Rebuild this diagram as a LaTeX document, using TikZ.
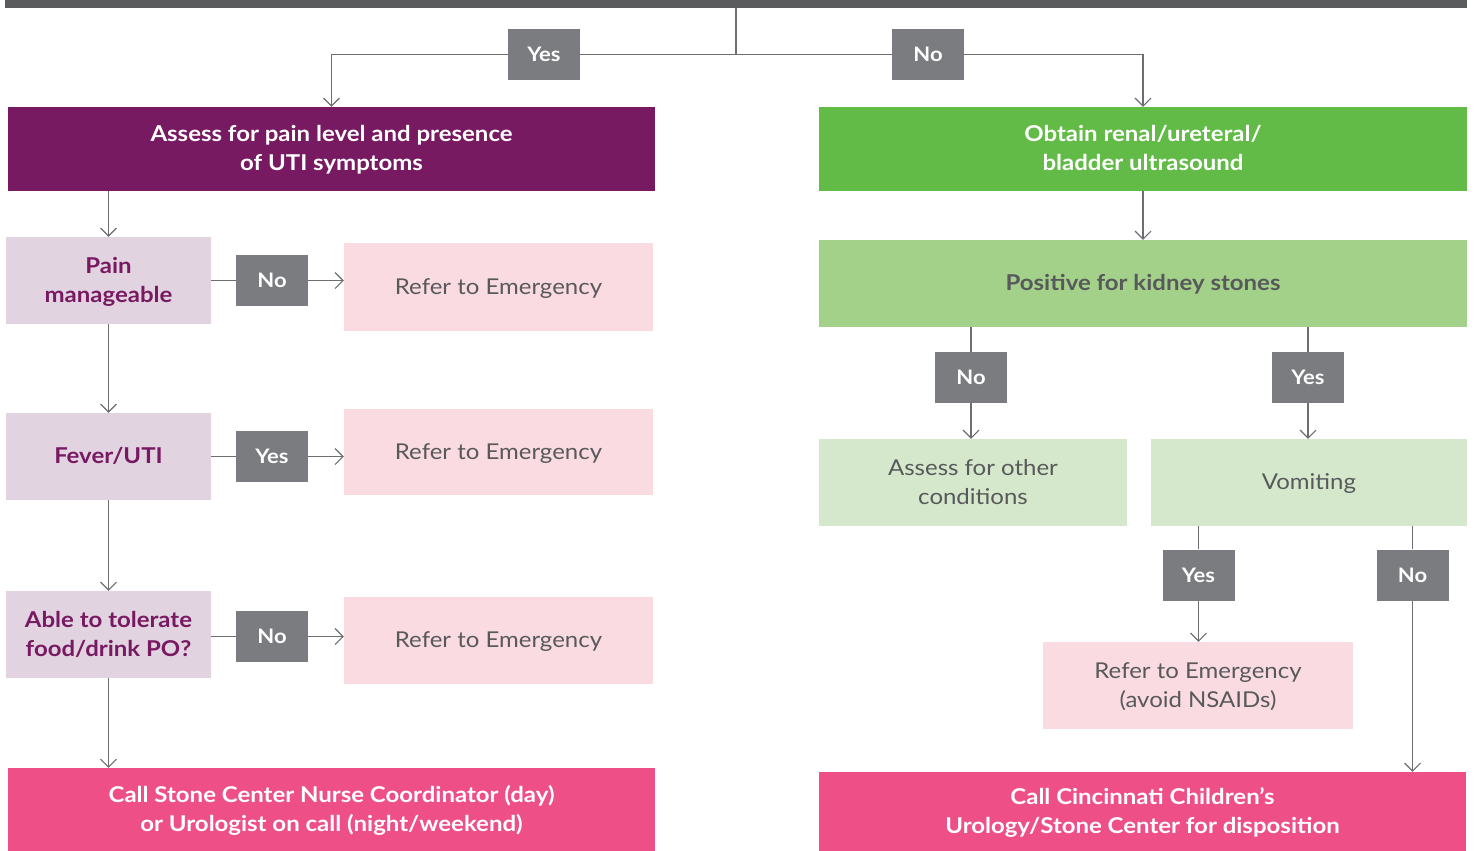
\documentclass[tikz,border=0pt]{standalone}
\usepackage{fontspec}
\setmainfont{Lato}[FakeStretch=1.1]
\usetikzlibrary{arrows.meta}
\definecolor{topbar}{HTML}{5B5C5E}
\definecolor{labgray}{HTML}{7B7C80}
\definecolor{purp}{HTML}{781A62}
\definecolor{lilac}{HTML}{E2D3E1}
\definecolor{pinkl}{HTML}{F9DBE1}
\definecolor{hotpink}{HTML}{EE4F87}
\definecolor{grn}{HTML}{62BB47}
\definecolor{grnm}{HTML}{A3D18A}
\definecolor{grnl}{HTML}{D5E8CB}
\definecolor{txtgray}{HTML}{58595B}
\definecolor{linegray}{HTML}{6D6E71}
\newcommand{\bs}{\rule[-4.5pt]{0pt}{23pt}}
\tikzset{
  box/.style={inner sep=0pt, align=center, font=\fontsize{21.8}{29}\selectfont},
  boldbox/.style={box, font=\fontsize{21.8}{29}\selectfont\bfseries},
  lab/.style={fill=labgray, text=white, inner sep=0pt, minimum width=72pt, minimum height=51pt, font=\fontsize{20}{23}\selectfont\bfseries},
  conn/.style={draw=linegray, line width=1.2pt},
  arr/.style={conn, -{Straight Barb[length=8pt,width=16pt,line width=1.1pt]}},
}
\begin{document}
\begin{tikzpicture}[x=1pt,y=-1pt]
\useasboundingbox (0,0) rectangle (1475,851);
\fill[topbar] (5,0) rectangle (1467,8);
\coordinate (top) at (736,8);
% labels
\node[lab] (yesA) at (544,54.5) {Yes};
\node[lab] (noA) at (928,54.5) {No};
% left column
\node[boldbox, fill=purp, text=white, minimum width=647pt, minimum height=84pt] (assess) at (331.5,149) {\bs Assess for pain level and presence\\of UTI symptoms\bs};
\node[boldbox, fill=lilac, text=purp, minimum width=205pt, minimum height=87pt] (pain) at (108.5,280.5) {\bs Pain\\manageable\bs};
\node[lab] (no1) at (272,280.5) {No};
\node[box, fill=pinkl, text=txtgray, minimum width=309pt, minimum height=88pt] (ref1) at (498.5,287) {\bs Refer to Emergency};
\node[boldbox, fill=lilac, text=purp, minimum width=205pt, minimum height=87pt] (fever) at (108.5,456.5) {\bs Fever/UTI};
\node[lab] (yes1) at (272,456.5) {Yes};
\node[box, fill=pinkl, text=txtgray, minimum width=309pt, minimum height=86pt] (ref2) at (498.5,452) {\bs Refer to Emergency};
\node[boldbox, fill=lilac, text=purp, minimum width=205pt, minimum height=87pt] (able) at (108.5,634.5) {\bs Able to tolerate\\food/drink PO?\bs};
\node[lab] (no2) at (272,636.5) {No};
\node[box, fill=pinkl, text=txtgray, minimum width=309pt, minimum height=87pt] (ref3) at (498.5,640.5) {\bs Refer to Emergency};
\node[boldbox, fill=hotpink, text=white, minimum width=647pt, minimum height=83pt] (callA) at (331.5,809.5) {\bs Call Stone Center Nurse Coordinator (day)\\or Urologist on call (night/weekend)\bs};
% right column
\node[boldbox, fill=grn, text=white, minimum width=648pt, minimum height=84pt] (us) at (1143,149) {\bs Obtain renal/ureteral/\\bladder ultrasound\bs};
\node[boldbox, fill=grnm, text=txtgray, minimum width=648pt, minimum height=87pt] (pos) at (1143,283.5) {\bs Positive for kidney stones};
\node[lab] (no3) at (971,377.5) {No};
\node[lab] (yes3) at (1308,377.5) {Yes};
\node[box, fill=grnl, text=txtgray, minimum width=308pt, minimum height=87pt] (other) at (973,482.5) {\bs Assess for other\\conditions\bs};
\node[box, fill=grnl, text=txtgray, minimum width=316pt, minimum height=87pt] (vom) at (1309,482.5) {\bs Vomiting};
\node[lab] (yes4) at (1198.5,575) {Yes};
\node[lab] (no4) at (1412.5,575) {No};
\node[box, fill=pinkl, text=txtgray, minimum width=310pt, minimum height=87pt] (ref4) at (1198,685.5) {\bs Refer to Emergency\\(avoid NSAIDs)\bs};
\node[boldbox, fill=hotpink, text=white, minimum width=647pt, minimum height=79pt] (callB) at (1142.5,811.5) {\bs Call Cincinnati Children’s\\Urology/Stone Center for disposition\bs};
% connectors top
\draw[conn] (top) |- (yesA.east);
\draw[conn] (top) |- (noA.west);
\draw[arr] (yesA.west) -| (assess.north);
\draw[arr] (noA.east) -| (us.north);
% left column connectors
\draw[arr] (assess.south -| pain.north) -- (pain.north);
\draw[conn] (no1.west -| pain.east) -- (no1.west);
\draw[arr] (no1.east) -- (no1.east -| ref1.west);
\draw[arr] (pain) -- (fever);
\draw[conn] (fever) -- (yes1);
\draw[arr] (yes1.east) -- (yes1.east -| ref2.west);
\draw[arr] (fever) -- (able);
\draw[conn] (no2.west -| able.east) -- (no2.west);
\draw[arr] (no2.east) -- (no2.east -| ref3.west);
\draw[arr] (able.south) -- (able.south |- callA.north);
% right column connectors
\draw[arr] (us) -- (pos);
\draw[conn] (no3.north |- pos.south) -- (no3.north);
\draw[arr] (no3.south) -- (no3.south |- other.north);
\draw[conn] (yes3.north |- pos.south) -- (yes3.north);
\draw[arr] (yes3.south) -- (yes3.south |- vom.north);
\draw[conn] (yes4.north |- vom.south) -- (yes4.north);
\draw[arr] (yes4.south) -- (yes4.south |- ref4.north);
\draw[conn] (no4.north |- vom.south) -- (no4.north);
\draw[arr] (no4.south) -- (no4.south |- callB.north);
\end{tikzpicture}
\end{document}
